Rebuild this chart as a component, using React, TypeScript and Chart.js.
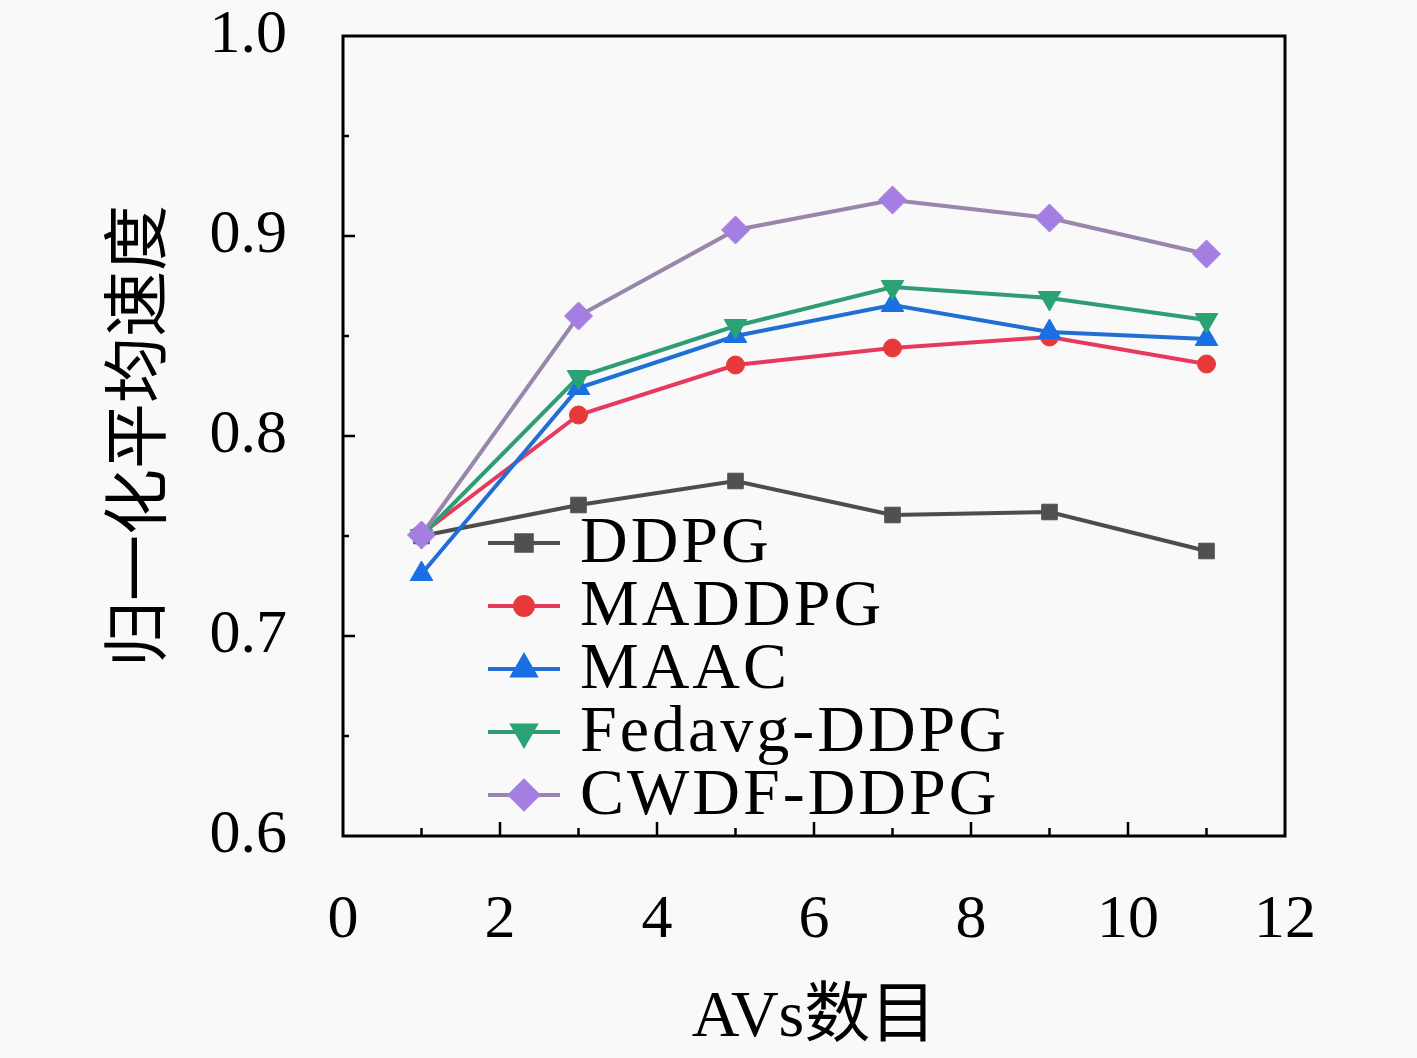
import { Chart, registerables } from "chart.js";
import { drawPoint } from "chart.js/helpers";
import { useEffect, useRef } from "react";

Chart.register(...registerables);

const avCounts = [1, 3, 5, 7, 9, 11];
const seriesNames = ["DDPG", "MADDPG", "MAAC", "Fedavg-DDPG", "CWDF-DDPG"];
const ddpg = [0.75, 0.7655, 0.7775, 0.7605, 0.762, 0.7425];
const maddpg = [0.751, 0.8105, 0.8355, 0.844, 0.8495, 0.836];
const maac = [0.731, 0.824, 0.85, 0.8655, 0.852, 0.8485];
const fedavg = [0.75, 0.8295, 0.855, 0.8745, 0.869, 0.858];
const cwdf = [0.7505, 0.86, 0.903, 0.918, 0.909, 0.891];
const xMajorTicks = [2, 4, 6, 8, 10];
const xMinorTicks = [1, 3, 5, 7, 9, 11];
const yMajorTicks = [0.7, 0.8, 0.9];
const yMinorTicks = [0.65, 0.75, 0.85, 0.95];

const lineColors = ["#4d4d4d", "#e6395c", "#1f6fd4", "#2f9c75", "#9886ad"];
const markerColors = ["#505050", "#e8393a", "#1a6fe2", "#2aa273", "#a57ee2"];
const markerStyles = ["rect", "circle", "triangle", "triangle", "rectRot"];
const markerRotations = [0, 0, 0, 180, 0];
const markerSizes = [11, 9, 13, 13, 14];

const SERIF = "'Liberation Serif', 'Noto Sans CJK SC', serif";

const frameAndLegend = {
  id: "frameAndLegend",
  afterDraw(chart: any) {
    const { ctx, chartArea } = chart;
    const xs = chart.scales.x;
    const ys = chart.scales.y;
    ctx.save();
    ctx.strokeStyle = "#000";
    ctx.lineWidth = 3;
    ctx.strokeRect(chartArea.left, chartArea.top, chartArea.right - chartArea.left, chartArea.bottom - chartArea.top);

    // inward tick marks
    ctx.lineWidth = 2.5;
    ctx.beginPath();
    xMajorTicks.forEach((v) => {
      const px = xs.getPixelForValue(v);
      ctx.moveTo(px, chartArea.bottom);
      ctx.lineTo(px, chartArea.bottom - 14);
    });
    xMinorTicks.forEach((v) => {
      const px = xs.getPixelForValue(v);
      ctx.moveTo(px, chartArea.bottom);
      ctx.lineTo(px, chartArea.bottom - 8);
    });
    yMajorTicks.forEach((v) => {
      const py = ys.getPixelForValue(v);
      ctx.moveTo(chartArea.left, py);
      ctx.lineTo(chartArea.left + 12, py);
    });
    yMinorTicks.forEach((v) => {
      const py = ys.getPixelForValue(v);
      ctx.moveTo(chartArea.left, py);
      ctx.lineTo(chartArea.left + 6, py);
    });
    ctx.stroke();

    // legend inside the plot
    const lx = chartArea.left + 145;
    const ly = chartArea.top + 507;
    const rowH = 63;
    chart.data.datasets.forEach((ds: any, i: number) => {
      const y = ly + i * rowH;
      ctx.strokeStyle = ds.borderColor;
      ctx.lineWidth = ds.borderWidth;
      ctx.beginPath();
      ctx.moveTo(lx, y);
      ctx.lineTo(lx + 72, y);
      ctx.stroke();
      ctx.fillStyle = ds.pointBackgroundColor;
      ctx.strokeStyle = ds.pointBorderColor;
      drawPoint(ctx, { pointStyle: ds.pointStyle, rotation: ds.pointRotation, radius: ds.pointRadius, borderWidth: 1 }, lx + 36, y);
      ctx.fillStyle = "#000";
      ctx.font = `66px ${SERIF}`;
      ctx.textBaseline = "middle";
      ctx.textAlign = "left";
      (ctx as any).letterSpacing = "3px";
      ctx.fillText(ds.label, lx + 92, y + 2);
    });
    ctx.restore();
  },
};

export default function App() {
  const canvasRef = useRef<HTMLCanvasElement | null>(null);

  useEffect(() => {
    document.body.style.margin = "0";
    document.body.style.background = "#f9f9f9";
    if (!canvasRef.current) return;
    const seriesValues = [ddpg, maddpg, maac, fedavg, cwdf];
    const chart = new Chart(canvasRef.current, {
      type: "line",
      data: {
        datasets: seriesNames.map((name, i) => ({
          label: name,
          data: avCounts.map((x, j) => ({ x, y: seriesValues[i][j] })),
          borderColor: lineColors[i],
          borderWidth: 4,
          pointStyle: markerStyles[i] as any,
          pointRotation: markerRotations[i],
          pointRadius: markerSizes[i],
          pointBackgroundColor: markerColors[i],
          pointBorderColor: markerColors[i],
          pointBorderWidth: 1,
          order: seriesNames.length - i,
          tension: 0,
        })),
      },
      options: {
        responsive: false,
        animation: false,
        devicePixelRatio: 1,
        layout: { padding: { top: 36, right: 132, left: 0, bottom: 0 } },
        plugins: { legend: { display: false }, tooltip: { enabled: false } },
        scales: {
          x: {
            type: "linear",
            min: 0,
            max: 12,
            grid: { display: false },
            border: { display: false },
            ticks: { stepSize: 2, color: "#000", padding: 40, font: { family: SERIF, size: 62 } },
            title: { display: true, text: "AVs数目", color: "#000", font: { family: SERIF, size: 66 }, padding: 0 },
            afterFit: (s: any) => {
              s.height = 222;
              s.paddingLeft = 0;
              s.paddingRight = 0;
            },
          },
          y: {
            min: 0.6,
            max: 1.0,
            grid: { display: false },
            border: { display: false },
            ticks: {
              stepSize: 0.1,
              color: "#000",
              padding: 48,
              font: { family: SERIF, size: 62 },
              callback: (v: any) => Number(v).toFixed(1),
            },
            title: { display: true, text: "归一化平均速度", color: "#000", font: { family: "'Noto Sans CJK SC', sans-serif", size: 66 }, padding: 95 },
            afterFit: (s: any) => {
              s.width = 343;
              s.paddingTop = 0;
              s.paddingBottom = 0;
            },
          },
        },
      },
      plugins: [frameAndLegend],
    });
    return () => chart.destroy();
  }, []);

  return (
    <div style={{ width: 1417, height: 1058, background: "#f9f9f9" }}>
      <canvas ref={canvasRef} width={1417} height={1058} style={{ width: 1417, height: 1058 }} />
    </div>
  );
}
